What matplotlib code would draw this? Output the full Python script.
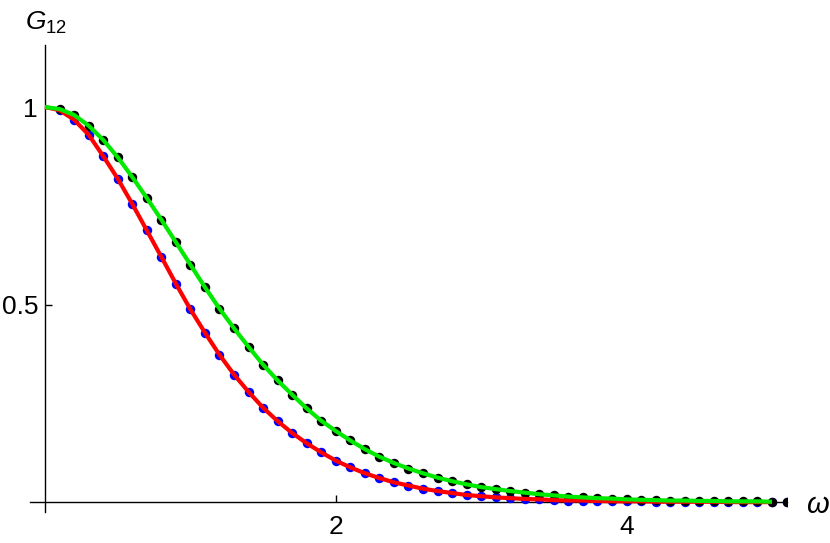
import numpy as np
import matplotlib
matplotlib.use("Agg")
import matplotlib.pyplot as plt

plt.rcParams['font.family'] = ['Liberation Sans', 'DejaVu Sans']
plt.rcParams['mathtext.fontset'] = 'custom'
plt.rcParams['mathtext.rm'] = 'Liberation Sans'
plt.rcParams['mathtext.it'] = 'Liberation Sans:italic'

# frequency grid, step 0.1 from 0 to 5.1
omega = np.round(np.arange(0, 52) * 0.1, 1)

# red curve / blue dots
g_red = [1.000, 0.992, 0.968, 0.930, 0.876, 0.819, 0.755, 0.688, 0.621, 0.553,
         0.488, 0.429, 0.373, 0.323, 0.279, 0.239, 0.205, 0.175, 0.149, 0.126,
         0.105, 0.088, 0.073, 0.061, 0.050, 0.042, 0.034, 0.028, 0.023, 0.018,
         0.015, 0.012, 0.010, 0.008, 0.007, 0.005, 0.004, 0.004, 0.003, 0.002,
         0.002, 0.002, 0.001, 0.001, 0.001, 0.001, 0.001, 0.000, 0.000, 0.000,
         0.000, 0.000]

# green curve / black dots
g_green = [1.000, 0.995, 0.980, 0.953, 0.917, 0.873, 0.823, 0.770, 0.715, 0.658,
           0.601, 0.544, 0.490, 0.440, 0.393, 0.348, 0.308, 0.272, 0.237, 0.206,
           0.180, 0.156, 0.134, 0.115, 0.099, 0.085, 0.073, 0.062, 0.053, 0.045,
           0.038, 0.033, 0.028, 0.024, 0.020, 0.017, 0.014, 0.012, 0.010, 0.009,
           0.007, 0.006, 0.005, 0.004, 0.004, 0.003, 0.003, 0.002, 0.002, 0.002,
           0.001, 0.001]

fig = plt.figure(figsize=(8.30, 5.43), dpi=100)
ax = fig.add_axes([30 / 830, 31 / 543, 756.5 / 830, 467 / 543])

# dots from 0.1 on (blue under black), lines up to 5.0
ax.plot(omega[1:], g_red[1:], 'o', color='#0000ff', ms=6.8, mec='none', zorder=2)
ax.plot(omega[1:], g_green[1:], 'o', color='black', ms=6.8, mec='none', zorder=2)
ax.plot(omega[:51], g_red[:51], color='#ff0000', lw=3, zorder=3,
        solid_capstyle='butt')
ax.plot(omega[:51], g_green[:51], color='#00ea00', lw=3, zorder=4,
        solid_capstyle='butt')

ax.set_xlim(-0.103, 5.1)
ax.set_ylim(-0.025, 1.157)

for s in ['top', 'right']:
    ax.spines[s].set_visible(False)
ax.spines['left'].set_position(('data', 0))
ax.spines['bottom'].set_position(('data', 0))
for s in ['left', 'bottom']:
    ax.spines[s].set_linewidth(1.0)
    ax.spines[s].set_zorder(1)

ax.set_xticks([2, 4])
ax.set_xticklabels(['2', '4'])
ax.set_yticks([0.5, 1])
ax.set_yticklabels(['0.5', '1'])
ax.tick_params(direction='in', length=5, width=1, labelsize=19)
ax.tick_params(axis='x', pad=9)
ax.tick_params(axis='y', pad=5)

fig.text(25 / 830, 1 - 30 / 543, r'$G_{12}$', fontsize=19, ha='left', va='baseline')
fig.text(806 / 830, 1 - 513 / 543, r'$\omega$', fontsize=21, ha='left', va='baseline')

fig.savefig('out.png', dpi=100)
